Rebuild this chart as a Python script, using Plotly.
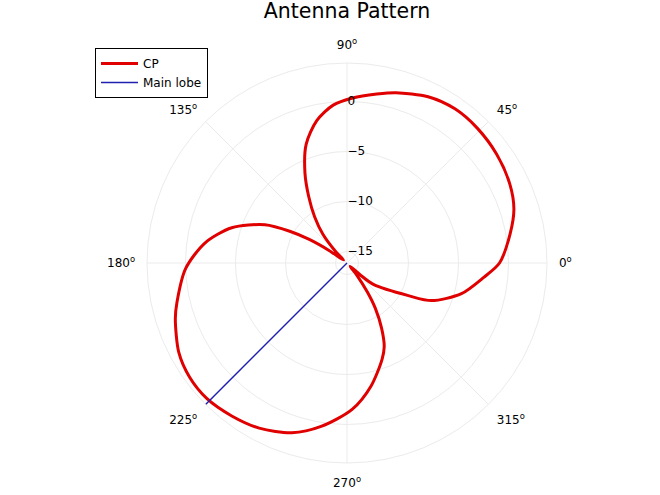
import plotly.graph_objects as go

# CP pattern (angle in degrees, gain in dB)
cp_theta = [0, 10, 18, 26, 36, 46, 55, 64, 74, 80, 88, 95, 102, 109, 115, 120, 125, 130, 135, 140,
            145, 148, 151, 155, 163, 172, 182, 193, 198, 208, 216, 224, 233, 242, 252, 261, 272, 281,
            290, 294, 298, 302, 305, 309, 313, 318, 321, 332, 336, 345, 354, 360]
cp_r = [-0.9, 0.4, 1.4, 1.95, 2.35, 2.6, 2.67, 2.35, 1.57, 1.0, 0.36, -0.3, -1.6, -3.6, -6.2, -8.5, -10.5, -12.4, -14.6, -15.7,
        -14.0, -11.7, -9.6, -7.1, -4.1, -1.8, 0.0, 1.3, 1.9, 2.9, 3.3, 3.35, 3.0, 2.55, 1.7, 0.4, -1.5, -3.6,
        -5.9, -7.0, -8.8, -10.8, -12.6, -14.6, -15.7, -14.4, -12.7, -9.2, -6.9, -4.3, -2.4, -0.9]

R_MIN = -16.15
R_MAX = 3.85
main_lobe_theta = [225, 225]
main_lobe_r = [R_MIN, R_MAX]

radial_ticks = [-15, -10, -5, 0]
angle_ticks = [0, 45, 90, 135, 180, 225, 270, 315]
angle_labels = [f"{a}<sup>o</sup>" for a in angle_ticks]

FONT = "DejaVu Sans"
GRID = "#ebebeb"

fig = go.Figure()
fig.add_trace(go.Scatterpolar(
    r=cp_r, theta=cp_theta, mode="lines", name="CP",
    line=dict(color="#e00000", width=3, shape="spline", smoothing=0.8),
))
fig.add_trace(go.Scatterpolar(
    r=main_lobe_r, theta=main_lobe_theta, mode="lines", name="Main lobe",
    line=dict(color="#2020b0", width=1.5),
))

cx, cy, rad = 347, 232, 200  # polar centre (from bottom) and radius, px
fig.update_layout(
    width=660, height=495,
    margin=dict(l=0, r=0, t=0, b=0),
    paper_bgcolor="white",
    font=dict(family=FONT, size=12, color="black"),
    title=dict(text="Antenna Pattern", x=cx / 660, xanchor="center",
               y=1 - 11 / 495, yanchor="middle", yref="container",
               font=dict(family=FONT, size=20.5, color="black")),
    polar=dict(
        domain=dict(x=[(cx - rad) / 660, (cx + rad) / 660], y=[(cy - rad) / 495, (cy + rad) / 495]),
        bgcolor="white",
        radialaxis=dict(
            range=[R_MIN, R_MAX], angle=90, side="clockwise", tickangle=90,
            tickvals=radial_ticks, ticks="", showline=False,
            gridcolor=GRID, gridwidth=1,
            tickfont=dict(family=FONT, size=12, color="black"),
        ),
        angularaxis=dict(
            rotation=0, direction="counterclockwise",
            tickvals=angle_ticks, ticktext=angle_labels,
            ticks="outside", ticklen=9, tickcolor="rgba(0,0,0,0)",
            showline=True, linecolor=GRID, linewidth=1,
            gridcolor=GRID, gridwidth=1,
            tickfont=dict(family=FONT, size=12, color="black"),
        ),
    ),
    legend=dict(
        x=95 / 660, y=1 - 48 / 495, xanchor="left", yanchor="top",
        bordercolor="black", borderwidth=1, bgcolor="white",
        font=dict(family=FONT, size=12, color="black"),
        tracegroupgap=0, itemwidth=37,
    ),
)

fig.write_html("out.html", config={"displayModeBar": False},
               post_script="document.body.style.margin='0';")
